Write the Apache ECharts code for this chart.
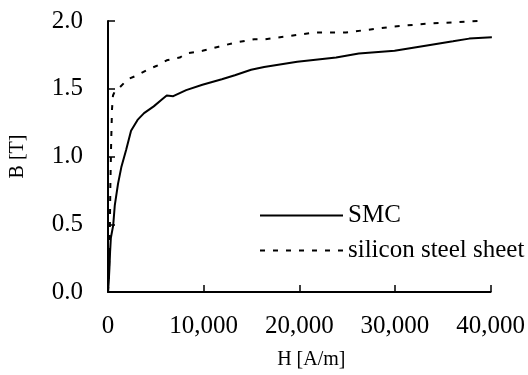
<!DOCTYPE html>
<html>
<head>
<meta charset="utf-8">
<script src="https://cdn.jsdelivr.net/npm/echarts@6/dist/echarts.min.js"></script>
<style>html,body{margin:0;padding:0;background:#fff}#c{width:528px;height:375px}</style>
</head>
<body>
<div id="c"></div>
<script>
var seriesNames = ['SMC', 'silicon steel sheet'];
var xTicks = [0, 10000, 20000, 30000, 40000];
var yTicks = [0.0, 0.5, 1.0, 1.5, 2.0];
// [H (A/m), B (T)]
var smcData = [
  [0,0],[80,0.08],[150,0.18],[220,0.30],[300,0.40],[540,0.49],[710,0.64],[1050,0.80],
  [1390,0.92],[1900,1.05],[2410,1.19],[3090,1.27],[3770,1.32],[4780,1.37],
  [5630,1.42],[6140,1.45],[6820,1.445],[8170,1.49],[9870,1.53],[11900,1.57],
  [13260,1.60],[14960,1.64],[16320,1.66],[19780,1.70],[23850,1.73],[26220,1.76],
  [29960,1.78],[33350,1.82],[36060,1.85],[37760,1.87],[40130,1.88]
];
var siliconData = [
  [0,0],[100,0.15],[180,0.40],[250,0.80],[330,1.10],[420,1.35],[520,1.45],[710,1.48],
  [1220,1.51],[2070,1.57],[3090,1.60],[4100,1.64],[5120,1.67],[6140,1.71],
  [7500,1.73],[8170,1.76],[9870,1.78],[11570,1.81],[13260,1.84],[15300,1.865],
  [16390,1.865],[19100,1.89],[21480,1.915],[24870,1.915],[26560,1.93],
  [29960,1.96],[33350,1.98],[36060,1.99],[38780,2.00]
];

var font = 'Liberation Serif';
var chart = echarts.init(document.getElementById('c'));
chart.setOption({
  backgroundColor: '#fff',
  animation: false,
  grid: {left: 103, right: 32, top: 21, bottom: 81},
  legend: {
    data: seriesNames,
    orient: 'vertical',
    left: 254, top: 198,
    itemWidth: 83, itemHeight: 14, itemGap: 10,
    itemStyle: {opacity: 0},
    textStyle: {fontFamily: font, fontSize: 25, color: '#000'}
  },
  xAxis: {
    type: 'value', min: xTicks[0], max: xTicks[xTicks.length - 1], interval: 10000,
    name: 'H [A/m]', nameLocation: 'middle', nameGap: 58,
    nameTextStyle: {fontFamily: font, fontSize: 20, color: '#000', padding: [0, 0, 0, 24]},
    axisLine: {lineStyle: {color: '#000', width: 2}},
    axisTick: {inside: true, length: 7, lineStyle: {color: '#000', width: 1.5}},
    splitLine: {show: false},
    axisLabel: {
      margin: 22, fontFamily: font, fontSize: 25, color: '#000',
      formatter: function (v) { return v.toLocaleString('en-US'); }
    }
  },
  yAxis: {
    type: 'value', min: yTicks[0], max: yTicks[yTicks.length - 1], interval: 0.5,
    name: 'B [T]', nameLocation: 'middle', nameGap: 80,
    nameTextStyle: {fontFamily: font, fontSize: 20, color: '#000'},
    axisLine: {show: true, lineStyle: {color: '#000', width: 2}},
    axisTick: {show: true, inside: true, length: 7, lineStyle: {color: '#000', width: 1.5}},
    splitLine: {show: false},
    axisLabel: {
      margin: 25, fontFamily: font, fontSize: 25, color: '#000',
      formatter: function (v) { return v.toFixed(1); }
    }
  },
  series: [
    {name: seriesNames[0], type: 'line', data: smcData, symbol: 'none',
     lineStyle: {color: '#000', width: 2}, itemStyle: {color: '#000'}},
    {name: seriesNames[1], type: 'line', data: siliconData, symbol: 'none',
     lineStyle: {color: '#000', width: 2, type: [5, 8]}, itemStyle: {color: '#000'}}
  ]
});
</script>
</body>
</html>
